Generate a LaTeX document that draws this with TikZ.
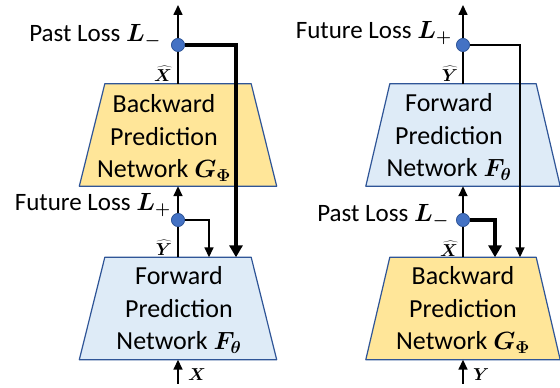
\documentclass[tikz,border=0pt]{standalone}
\usepackage{fontspec}
\setmainfont{Carlito}
\usepackage{bm}
\usetikzlibrary{arrows.meta,positioning}

\begin{document}
\begin{tikzpicture}[x=1pt,y=1pt,
  netbox/.style={rectangle,minimum width=146,minimum height=102,inner sep=0pt},
  netshape/.style={draw=borderColor,line width=1.2pt,line join=round},
  nettext/.style={align=center,font=\fontsize{26}{32.5}\selectfont,inner sep=0pt},
  losstext/.style={font=\fontsize{25}{28}\selectfont,inner sep=0pt,anchor=base east},
  hattext/.style={font=\fontsize{19}{21}\selectfont,inner sep=0pt},
  lossdot/.style={circle,fill=dotColor,draw=dotBorder,line width=0.6pt,minimum size=13,inner sep=0pt},
  flow/.style={draw=black,line width=1.6pt,-{Triangle[length=10pt,width=9pt]}},
  bigflow/.style={draw=black,line width=4.2pt,-{Triangle[length=12pt,width=13pt]}},
  plain/.style={draw=black,line width=1.6pt}]
\definecolor{fillColor}{RGB}{255,255,255}
\definecolor{borderColor}{RGB}{47,85,151}
\definecolor{dotColor}{RGB}{68,114,196}
\definecolor{dotBorder}{RGB}{47,85,151}
\definecolor{bwdFill}{RGB}{255,230,153}
\definecolor{fwdFill}{RGB}{222,235,247}
\path[use as bounding box,fill=fillColor] (0,0) rectangle (560,388);

\node[netbox] (bwdA) at (178,253) {};
\node[netbox] (fwdA) at (178,79.5) {};
\node[netbox] (fwdB) at (463,253) {};
\node[netbox] (bwdB) at (463,79.5) {};

\path[netshape,fill=bwdFill] (bwdA.north west) -- (bwdA.north east) -- ([xshift=25.5]bwdA.south east) -- ([xshift=-25.5]bwdA.south west) -- cycle;
\path[netshape,fill=fwdFill] (fwdA.north west) -- (fwdA.north east) -- ([xshift=25.5]fwdA.south east) -- ([xshift=-25.5]fwdA.south west) -- cycle;
\path[netshape,fill=fwdFill] (fwdB.north west) -- (fwdB.north east) -- ([xshift=24]fwdB.south east) -- ([xshift=-24]fwdB.south west) -- cycle;
\path[netshape,fill=bwdFill] (bwdB.north west) -- (bwdB.north east) -- ([xshift=24]bwdB.south east) -- ([xshift=-24]bwdB.south west) -- cycle;

\node[nettext] (bwdAtext) at (164,250) {Backward\\Prediction\\Network $\bm{G_{\Phi}}$};
\node[nettext] (fwdAtext) at (179,78) {Forward\\Prediction\\Network $\bm{F_{\theta}}$};
\node[nettext] (fwdBtext) at (449,251) {Forward\\Prediction\\Network $\bm{F_{\theta}}$};
\node[nettext] (bwdBtext) at (463,78) {Backward\\Prediction\\Network $\bm{G_{\Phi}}$};

\node[lossdot] (pastA) at (178,343) {};
\node[lossdot] (futA) at (178,168) {};
\node[lossdot] (futB) at (463,343) {};
\node[lossdot] (pastB) at (463,168) {};

\node[losstext] (pastAlabel) at (161,346) {Past Loss $\bm{L_{-}}$};
\node[losstext] (futAlabel) at (171,177) {Future Loss $\bm{L_{+}}$};
\node[losstext] (futBlabel) at (452,349) {Future Loss $\bm{L_{+}}$};
\node[losstext] (pastBlabel) at (449,166) {Past Loss $\bm{L_{-}}$};

\node[hattext] (xhatA) at (163,314) {$\widehat{\bm{X}}$};
\node[hattext] (yhatA) at (164,140) {$\widehat{\bm{Y}}$};
\node[hattext] (yhatB) at (450,314) {$\widehat{\bm{Y}}$};
\node[hattext] (xhatB) at (449,139) {$\widehat{\bm{X}}$};

\coordinate (outA) at (178,383);
\coordinate (outB) at (463,383);
\coordinate (inA) at (178,4);
\coordinate (inB) at (463,4);
\coordinate (pastAcorner) at (236,343);
\coordinate (futAcorner) at (209,168);
\coordinate (futBcorner) at (520,343);
\coordinate (pastBcorner) at (495,168);

\node[hattext,anchor=west] (inAlabel) at (188,13) {$\bm{X}$};
\node[hattext,anchor=west] (inBlabel) at (473,13) {$\bm{Y}$};

% left column
\draw[flow] (inA) -- (fwdA.south);
\draw[plain] (fwdA.north) -- (futA);
\draw[flow] (futA) -- (bwdA.south);
\draw[plain] (bwdA.north) -- (pastA);
\draw[flow] (pastA) -- (outA);
\draw[flow] (futA) -- (futAcorner) -- (futAcorner |- fwdA.north);
\draw[bigflow] (pastA) -- (pastAcorner) -- (pastAcorner |- fwdA.north);

% right column
\draw[flow] (inB) -- (bwdB.south);
\draw[plain] (bwdB.north) -- (pastB);
\draw[flow] (pastB) -- (fwdB.south);
\draw[plain] (fwdB.north) -- (futB);
\draw[flow] (futB) -- (outB);
\draw[flow] (futB) -- (futBcorner) -- (futBcorner |- bwdB.north);
\draw[bigflow] (pastB) -- (pastBcorner) -- (pastBcorner |- bwdB.north);

\node[lossdot] at (pastA) {};
\node[lossdot] at (futA) {};
\node[lossdot] at (futB) {};
\node[lossdot] at (pastB) {};
\end{tikzpicture}
\end{document}
